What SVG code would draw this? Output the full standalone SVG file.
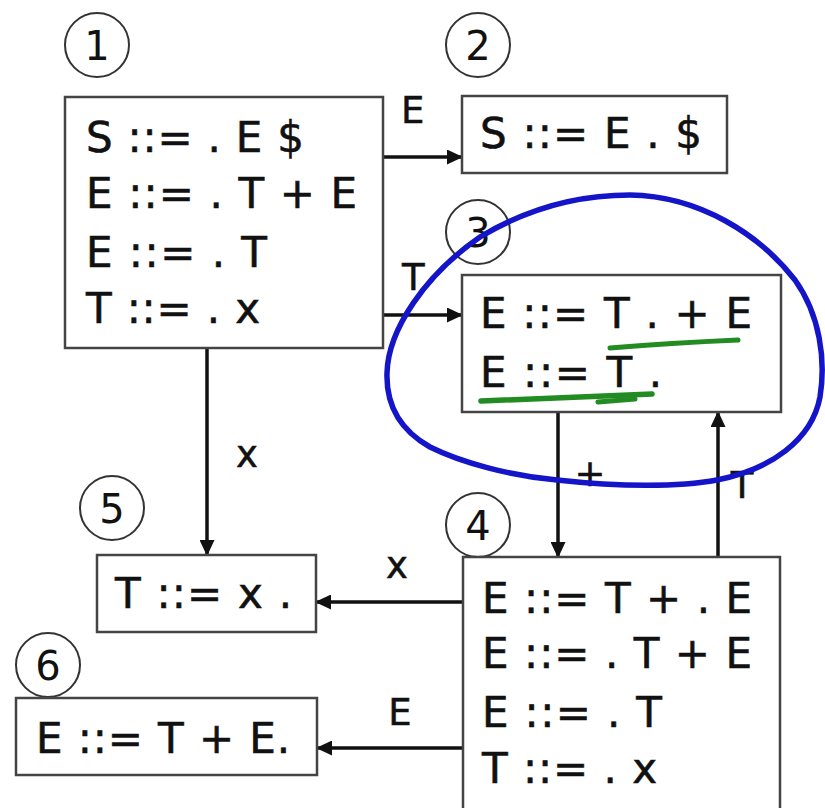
<svg xmlns="http://www.w3.org/2000/svg" width="825" height="808" viewBox="0 0 825 808">
<style>
.box{fill:#fff;stroke:#444;stroke-width:2.5}
.num{fill:none;stroke:#333;stroke-width:2}
.t{font-family:"DejaVu Sans","Liberation Sans",sans-serif;font-size:42px;fill:#111;stroke:#111;stroke-width:0.6}
.n{font-family:"DejaVu Sans","Liberation Sans",sans-serif;font-size:40px;fill:#111;text-anchor:middle}
.lab{font-family:"DejaVu Sans","Liberation Sans",sans-serif;font-size:37px;fill:#111;stroke:#111;stroke-width:0.5}
.edge{stroke:#111;stroke-width:3.5;fill:none;marker-end:url(#ah)}
</style>
<defs>
<marker id="ah" markerUnits="userSpaceOnUse" markerWidth="16" markerHeight="15" refX="15" refY="7.5" orient="auto">
<path d="M0,0 L16,7.5 L0,15 z" fill="#111"/>
</marker>
</defs>
<rect width="825" height="808" fill="#fff"/>

<g id="connectors">
<line class="edge" x1="383" y1="157" x2="462" y2="157"/>
<line class="edge" x1="383" y1="315" x2="462" y2="315"/>
<line class="edge" x1="207" y1="348" x2="207" y2="555"/>
<line class="edge" x1="558" y1="412" x2="558" y2="557"/>
<line class="edge" x1="718" y1="557" x2="718" y2="412"/>
<line class="edge" x1="463" y1="602" x2="316" y2="602"/>
<line class="edge" x1="463" y1="748" x2="317" y2="748"/>
<text class="lab" x="401" y="123">E</text>
<text class="lab" x="402" y="290">T</text>
<text class="lab" x="247" y="467" text-anchor="middle">x</text>
<text class="lab" x="590" y="486" text-anchor="middle">+</text>
<text class="lab" x="742" y="498" text-anchor="middle">T</text>
<text class="lab" x="397" y="578" text-anchor="middle">x</text>
<text class="lab" x="400" y="725" text-anchor="middle">E</text>
</g>

<g id="state1">
<circle class="num" cx="97" cy="45" r="32"/>
<text class="n" x="97" y="60">1</text>
<rect class="box" x="65" y="97" width="318" height="251"/>
<text class="t" x="86" y="152" textLength="218" lengthAdjust="spacing">S ::= . E $</text>
<text class="t" x="86" y="208" textLength="271" lengthAdjust="spacing">E ::= . T + E</text>
<text class="t" x="86" y="267" textLength="181" lengthAdjust="spacing">E ::= . T</text>
<text class="t" x="86" y="323" textLength="174" lengthAdjust="spacing">T ::= . x</text>
</g>

<g id="state2">
<circle class="num" cx="478" cy="45" r="32"/>
<text class="n" x="478" y="60">2</text>
<rect class="box" x="462" y="96" width="265" height="77"/>
<text class="t" x="480" y="148" textLength="222" lengthAdjust="spacing">S ::= E . $</text>
</g>

<g id="state3">
<circle class="num" cx="478" cy="232" r="32"/>
<text class="n" x="478" y="247">3</text>
<rect class="box" x="462" y="275" width="319" height="137"/>
<text class="t" x="480" y="328" textLength="272" lengthAdjust="spacing">E ::= T . + E</text>
<text class="t" x="480" y="387" textLength="182" lengthAdjust="spacing">E ::= T .</text>
</g>

<g id="state4">
<circle class="num" cx="478" cy="525" r="32"/>
<text class="n" x="478" y="540">4</text>
<rect class="box" x="463" y="557" width="317" height="260"/>
<text class="t" x="482" y="613" textLength="270" lengthAdjust="spacing">E ::= T + . E</text>
<text class="t" x="482" y="668" textLength="270" lengthAdjust="spacing">E ::= . T + E</text>
<text class="t" x="482" y="727" textLength="180" lengthAdjust="spacing">E ::= . T</text>
<text class="t" x="482" y="783" textLength="175" lengthAdjust="spacing">T ::= . x</text>
</g>

<g id="state5">
<circle class="num" cx="112" cy="508" r="32"/>
<text class="n" x="112" y="523">5</text>
<rect class="box" x="97" y="555" width="219" height="77"/>
<text class="t" x="115" y="608" textLength="177" lengthAdjust="spacing">T ::= x .</text>
</g>

<g id="state6">
<circle class="num" cx="48" cy="665" r="32"/>
<text class="n" x="48" y="680">6</text>
<rect class="box" x="16" y="698" width="301" height="77"/>
<text class="t" x="36" y="753" textLength="254" lengthAdjust="spacing">E ::= T + E.</text>
</g>

<g id="annotations" fill="none" stroke-linecap="round">
<path d="M 387 373 C 388 330, 425 275, 480 237 C 530 207, 580 195, 630 195 C 700 196, 760 235, 795 280 C 820 315, 826 360, 820 397 C 812 440, 770 470, 717 480 C 680 487, 620 487, 557 480 C 510 476, 460 462, 430 447 C 400 430, 386 405, 387 373 Z" stroke="#1414c8" stroke-width="5.5"/>
<path d="M 610 348 Q 670 343 738 340" stroke="#228b22" stroke-width="5"/>
<path d="M 481 401 Q 560 398 652 394" stroke="#228b22" stroke-width="5.5"/>
<path d="M 598 402 L 635 399" stroke="#228b22" stroke-width="5"/>
</g>
</svg>
